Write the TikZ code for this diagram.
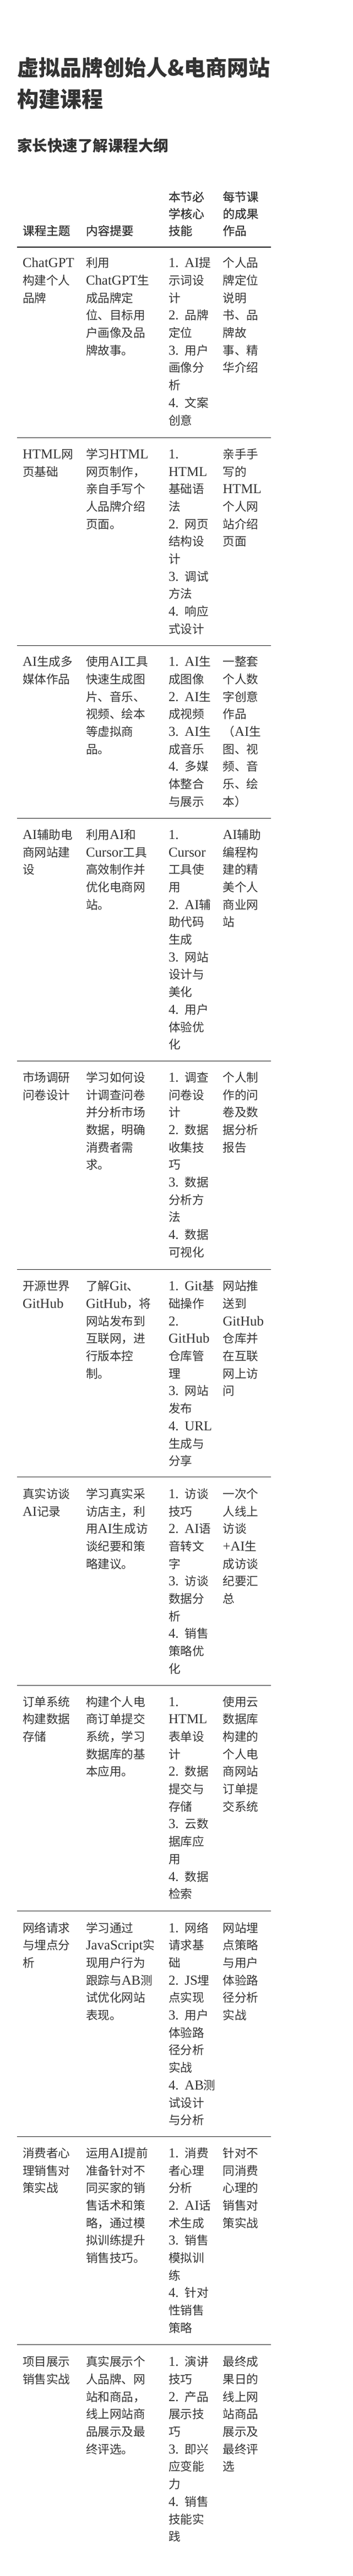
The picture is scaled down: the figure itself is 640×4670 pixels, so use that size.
\documentclass[tikz,border=0pt]{standalone}
\usepackage{fontspec}
\setmainfont{Noto Sans CJK SC}
\newfontfamily\lat[Scale=1.15]{Liberation Serif}
\newfontfamily\hdfont[FakeBold=0.8]{Noto Sans CJK SC}
\newcommand\la[1]{{\lat #1}}
\newcommand\bodyfont{\fontsize{21.6pt}{31.7pt}\selectfont}
\newcommand\headfont{\hdfont\fontsize{21.6pt}{30.7pt}\selectfont}
\newcommand\titlefont{\bfseries\fontsize{39pt}{57pt}\selectfont}
\newcommand\subtitlefont{\bfseries\fontsize{27.5pt}{33pt}\selectfont}
\definecolor{txt}{HTML}{333333}
\definecolor{rulecol}{HTML}{222222}
\tikzset{
  cell/.style={anchor=base west, inner sep=0pt, outer sep=0pt, text width=170pt, align=left, font=\bodyfont, text=txt},
  headcell/.style={cell, font=\headfont},
  rowrule/.style={draw=rulecol, line width=1pt},
  headrule/.style={draw=rulecol, line width=2pt}
}
% #1 id, #2 first glyph top, #3-#6 cells
\newcommand\tablerow[6]{%
  \node[cell] (#1a) at (41,{#2+18}) {#3};
  \node[cell] (#1b) at (156,{#2+18}) {#4};
  \node[cell] (#1c) at (306,{#2+18}) {#5};
  \node[cell] (#1d) at (404.5,{#2+18}) {#6};
}
\newcommand\rowline[2]{%
  \coordinate (#1l) at (31,#2);
  \coordinate (#1r) at (491.7,#2);
  \draw[rowrule] (#1l) -- (#1r);
}
\begin{document}
\begin{tikzpicture}[x=1pt,y=-1pt]
\fill[white] (0,0) rectangle (640,4670);
\useasboundingbox (0,0) rectangle (640,4670);

\node[anchor=base west, inner sep=0pt, text width=600pt, align=left, font=\titlefont, text=txt] (title) at (31,137.4) {虚拟品牌创始人\&电商网站\\构建课程};
\node[anchor=base west, inner sep=0pt, text width=600pt, align=left, font=\subtitlefont, text=txt] (subtitle) at (31,274.5) {家长快速了解课程大纲};

\node[headcell] (h1) at (41,426.3) {课程主题};
\node[headcell] (h2) at (156,426.3) {内容提要};
\node[headcell] (h3) at (306,365) {本节必\\学核心\\技能};
\node[headcell] (h4) at (404.5,365) {每节课\\的成果\\作品};
\coordinate (hl) at (31,447.7);
\coordinate (hr) at (491.7,447.7);
\draw[headrule] (hl) -- (hr);

\tablerow{r1}{466.7}{\la{ChatGPT}\\构建个人\\品牌}{利用\\\la{ChatGPT}生\\成品牌定\\位、目标用\\户画像及品\\牌故事。}{\la{1. AI}提\\示词设\\计\\\la{2. }品牌\\定位\\\la{3. }用户\\画像分\\析\\\la{4. }文案\\创意}{个人品\\牌定位\\说明\\书、品\\牌故\\事、精\\华介绍}
\rowline{l1}{793.3}

\tablerow{r2}{813.3}{\la{HTML}网\\页基础}{学习\la{HTML}\\网页制作，\\亲自手写个\\人品牌介绍\\页面。}{\la{1.}\\\la{HTML}\\基础语\\法\\\la{2. }网页\\结构设\\计\\\la{3. }调试\\方法\\\la{4. }响应\\式设计}{亲手手\\写的\\\la{HTML}\\个人网\\站介绍\\页面}
\rowline{l2}{1170}

\tablerow{r3}{1189.7}{\la{AI}生成多\\媒体作品}{使用\la{AI}工具\\快速生成图\\片、音乐、\\视频、绘本\\等虚拟商\\品。}{\la{1. AI}生\\成图像\\\la{2. AI}生\\成视频\\\la{3. AI}生\\成音乐\\\la{4. }多媒\\体整合\\与展示}{一整套\\个人数\\字创意\\作品\\（\la{AI}生\\图、视\\频、音\\乐、绘\\本）}
\rowline{l3}{1483.3}

\tablerow{r4}{1503.3}{\la{AI}辅助电\\商网站建\\设}{利用\la{AI}和\\\la{Cursor}工具\\高效制作并\\优化电商网\\站。}{\la{1.}\\\la{Cursor}\\工具使\\用\\\la{2. AI}辅\\助代码\\生成\\\la{3. }网站\\设计与\\美化\\\la{4. }用户\\体验优\\化}{\la{AI}辅助\\编程构\\建的精\\美个人\\商业网\\站}
\rowline{l4}{1923.3}

\tablerow{r5}{1943.3}{市场调研\\问卷设计}{学习如何设\\计调查问卷\\并分析市场\\数据，明确\\消费者需\\求。}{\la{1. }调查\\问卷设\\计\\\la{2. }数据\\收集技\\巧\\\la{3. }数据\\分析方\\法\\\la{4. }数据\\可视化}{个人制\\作的问\\卷及数\\据分析\\报告}
\rowline{l5}{2301}

\tablerow{r6}{2321.7}{开源世界\\\la{GitHub}}{了解\la{Git}、\\\la{GitHub}，将\\网站发布到\\互联网，进\\行版本控\\制。}{\la{1. Git}基\\础操作\\\la{2.}\\\la{GitHub}\\仓库管\\理\\\la{3. }网站\\发布\\\la{4. URL}\\生成与\\分享}{网站推\\送到\\\la{GitHub}\\仓库并\\在互联\\网上访\\问}
\rowline{l6}{2677.7}

\tablerow{r7}{2698.3}{真实访谈\\\la{AI}记录}{学习真实采\\访店主，利\\用\la{AI}生成访\\谈纪要和策\\略建议。}{\la{1. }访谈\\技巧\\\la{2. AI}语\\音转文\\字\\\la{3. }访谈\\数据分\\析\\\la{4. }销售\\策略优\\化}{一次个\\人线上\\访谈\\\la{+AI}生\\成访谈\\纪要汇\\总}
\rowline{l7}{3055}

\tablerow{r8}{3075}{订单系统\\构建数据\\存储}{构建个人电\\商订单提交\\系统，学习\\数据库的基\\本应用。}{\la{1.}\\\la{HTML}\\表单设\\计\\\la{2. }数据\\提交与\\存储\\\la{3. }云数\\据库应\\用\\\la{4. }数据\\检索}{使用云\\数据库\\构建的\\个人电\\商网站\\订单提\\交系统}
\rowline{l8}{3464.3}

\tablerow{r9}{3485}{网络请求\\与埋点分\\析}{学习通过\\\la{JavaScript}实\\现用户行为\\跟踪与\la{AB}测\\试优化网站\\表现。}{\la{1. }网络\\请求基\\础\\\la{2. JS}埋\\点实现\\\la{3. }用户\\体验路\\径分析\\实战\\\la{4. AB}测\\试设计\\与分析}{网站埋\\点策略\\与用户\\体验路\\径分析\\实战}
\rowline{l9}{3873.3}

\tablerow{r10}{3893.3}{消费者心\\理销售对\\策实战}{运用\la{AI}提前\\准备针对不\\同买家的销\\售话术和策\\略，通过模\\拟训练提升\\销售技巧。}{\la{1. }消费\\者心理\\分析\\\la{2. AI}话\\术生成\\\la{3. }销售\\模拟训\\练\\\la{4. }针对\\性销售\\策略}{针对不\\同消费\\心理的\\销售对\\策实战}
\rowline{l10}{4250}

\tablerow{r11}{4271.7}{项目展示\\销售实战}{真实展示个\\人品牌、网\\站和商品，\\线上网站商\\品展示及最\\终评选。}{\la{1. }演讲\\技巧\\\la{2. }产品\\展示技\\巧\\\la{3. }即兴\\应变能\\力\\\la{4. }销售\\技能实\\践}{最终成\\果日的\\线上网\\站商品\\展示及\\最终评\\选}
\end{tikzpicture}
\end{document}
